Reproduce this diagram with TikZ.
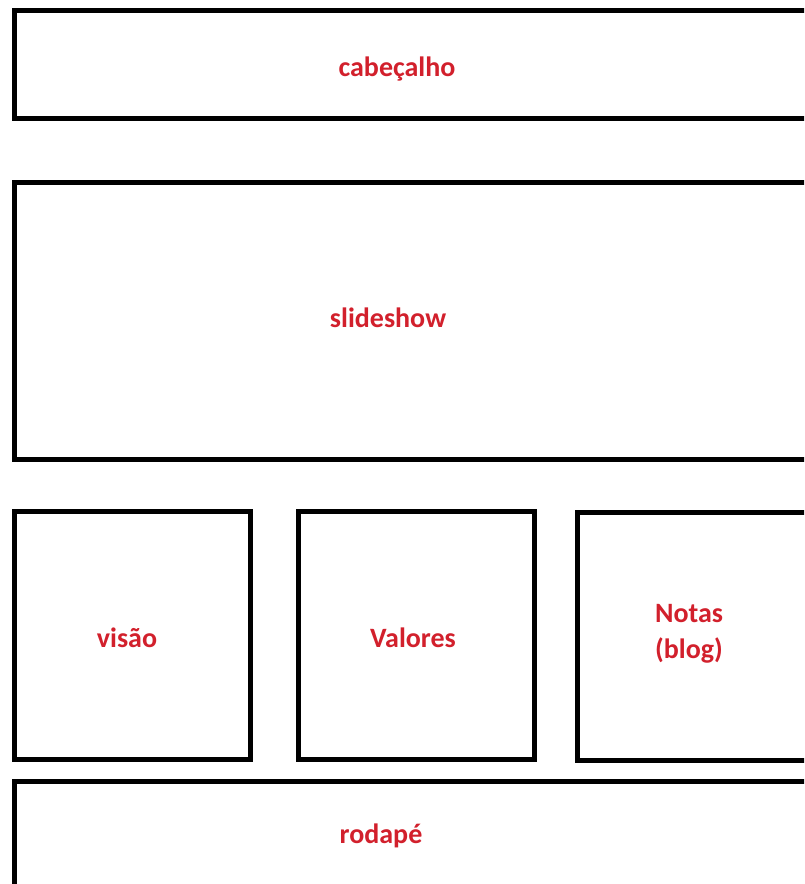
\documentclass[tikz,border=0pt]{standalone}
\usepackage{fontspec}
\setmainfont{Carlito}
\usepackage{tikz}
\definecolor{vermelho}{RGB}{210,32,44}
\tikzset{
    bloco/.style={draw=black, line width=3.75pt},
    rotulo/.style={text=vermelho, font=\bfseries\fontsize{21}{27}\selectfont, align=center, inner sep=0pt, anchor=base}
}
\begin{document}
\begin{tikzpicture}[x=0.75pt, y=-0.75pt]
    \useasboundingbox (0,0) rectangle (804,884);
    \clip (0,0) rectangle (804,884);
    \fill[white] (0,0) rectangle (804,884);

    % blocos da pagina
    \draw[bloco] (14,10.5) rectangle (840,119);
    \draw[bloco] (14,182.5) rectangle (840,459.5);
    \draw[bloco] (14,511) rectangle (250,759.5);
    \draw[bloco] (298,511) rectangle (534,759);
    \draw[bloco] (577,512.5) rectangle (840,760);
    \draw[bloco] (14,781.5) rectangle (840,920);

    % textos
    \node[rotulo] (cabecalho) at (397,77) {cabeçalho};
    \node[rotulo] (slideshow) at (388,327) {slideshow};
    \node[rotulo] (visao) at (127,647) {visão};
    \node[rotulo] (valores) at (413,647) {Valores};
    \node[rotulo] (notas) at (689,658) {Notas\\(blog)};
    \node[rotulo] (rodape) at (381,843) {rodapé};
\end{tikzpicture}
\end{document}
